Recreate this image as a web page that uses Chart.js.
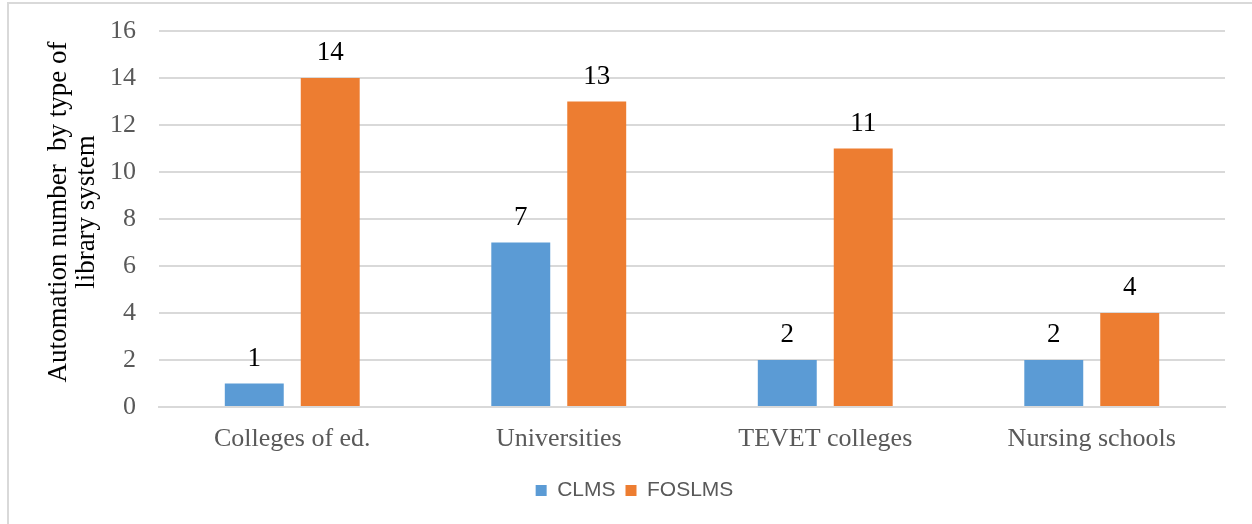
<!DOCTYPE html>
<html>
<head>
<meta charset="utf-8">
<script src="https://cdn.jsdelivr.net/npm/chart.js@4.4.1/dist/chart.umd.min.js"></script>
<style>
  html, body { margin: 0; padding: 0; background: #fff; overflow: hidden; }
  #wrap {
    position: absolute;
    left: 7px; top: 2px;
    width: 1260px; height: 540px;
    border: 2px solid #d9d9d9;
    box-sizing: border-box;
  }
  #chartBox { position: absolute; left: 0; top: 0; width: 1252px; height: 524px; }
</style>
</head>
<body>
<div id="wrap"></div>
<div id="chartBox"><canvas id="libChart"></canvas></div>
<script>
const categories = ['Colleges of ed.', 'Universities', 'TEVET colleges', 'Nursing schools']
const clmsValues = [1, 7, 2, 2]
const foslmsValues = [14, 13, 11, 4]
const yTicks = [0, 2, 4, 6, 8, 10, 12, 14, 16]
const yTitle = ['Automation number  by type of', 'library system']

const serif = "'Liberation Serif', 'Times New Roman', serif"
const sans = "'Liberation Sans', Arial, sans-serif"

// value labels above each bar
const barValueLabels = {
  id: 'barValueLabels',
  afterDatasetsDraw(chart) {
    const ctx = chart.ctx
    ctx.save()
    ctx.font = `27px ${serif}`
    ctx.fillStyle = '#000'
    ctx.textAlign = 'center'
    ctx.textBaseline = 'alphabetic'
    chart.data.datasets.forEach((ds, i) => {
      chart.getDatasetMeta(i).data.forEach((bar, j) => {
        ctx.fillText(String(ds.data[j]), bar.x, bar.y - 18)
      })
    })
    ctx.restore()
  }
}

// rotated two-line y axis title
const yAxisTitle = {
  id: 'yAxisTitle',
  afterDraw(chart) {
    const ctx = chart.ctx
    ctx.save()
    ctx.translate(0, 212)
    ctx.rotate(-Math.PI / 2)
    ctx.font = `27px ${serif}`
    ctx.fillStyle = '#000'
    ctx.textAlign = 'center'
    ctx.textBaseline = 'alphabetic'
    ctx.fillText(yTitle[0], 0, 66)
    ctx.fillText(yTitle[1], 0, 94)
    ctx.restore()
  }
}

new Chart(document.getElementById('libChart').getContext('2d'), {
  type: 'bar',
  data: {
    labels: categories,
    datasets: [
      { label: 'CLMS', data: clmsValues, backgroundColor: '#5b9bd5' },
      { label: 'FOSLMS', data: foslmsValues, backgroundColor: '#ed7d31' }
    ]
  },
  options: {
    responsive: true,
    maintainAspectRatio: false,
    animation: false,
    layout: { autoPadding: false, padding: { top: 31, right: 27, left: 44, bottom: 13 } },
    datasets: {
      bar: { categoryPercentage: 0.57, barPercentage: 0.776 }
    },
    scales: {
      x: {
        afterFit(scale) { scale.height = 63 },
        grid: { display: false, drawTicks: false },
        border: { color: '#d9d9d9', width: 2 },
        ticks: { font: { family: serif, size: 26 }, color: '#595959', padding: 17 }
      },
      y: {
        min: 0,
        max: 16,
        afterBuildTicks(scale) {
          scale.ticks = yTicks.map(v => ({ value: v }))
        },
        afterFit(scale) {
          scale.width = 115
          // labels may overhang the plot; don't let them push it down
          scale.paddingTop = 0
          scale.paddingBottom = 0
        },
        grid: { color: '#d9d9d9', lineWidth: 2, drawTicks: false },
        border: { display: false },
        ticks: { font: { family: serif, size: 26 }, color: '#595959', padding: 23 }
      }
    },
    plugins: {
      legend: {
        position: 'bottom',
        labels: {
          font: { family: sans, size: 21 },
          color: '#595959',
          boxWidth: 11,
          boxHeight: 11,
          padding: 10
        }
      },
      tooltip: { enabled: false }
    }
  },
  plugins: [barValueLabels, yAxisTitle]
})
</script>
</body>
</html>
